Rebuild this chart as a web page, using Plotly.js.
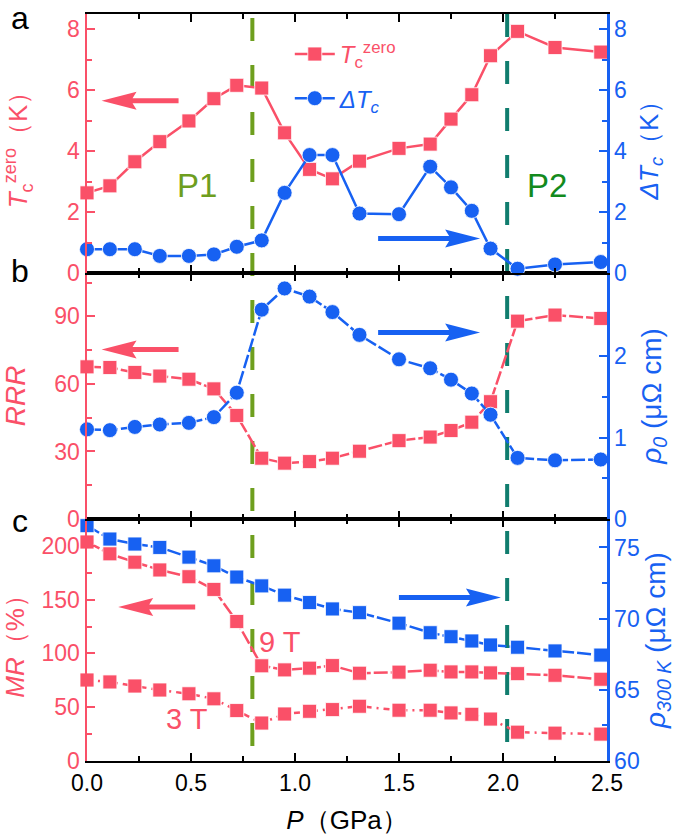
<!DOCTYPE html>
<html>
<head>
<meta charset="utf-8">
<script src="https://cdn.plot.ly/plotly-3.0.1.min.js"></script>
<style>
  html, body { margin: 0; padding: 0; background: #fff; }
  #chart { width: 685px; height: 840px; }
</style>
</head>
<body>
<div id="chart"></div>
<script>
// pressure points (GPa), shared by all three panels
var pressure = [0, 0.11, 0.23, 0.35, 0.49, 0.61, 0.72, 0.84, 0.95, 1.07, 1.18, 1.31, 1.50, 1.65, 1.75, 1.85, 1.94, 2.07, 2.25, 2.47];

// panel a
var tcZero  = [2.63, 2.86, 3.65, 4.31, 4.99, 5.72, 6.16, 6.07, 4.60, 3.40, 3.09, 3.67, 4.09, 4.23, 5.05, 5.85, 7.13, 7.93, 7.40, 7.25];
var deltaTc = [0.78, 0.78, 0.78, 0.56, 0.56, 0.61, 0.86, 1.07, 2.63, 3.87, 3.87, 1.95, 1.93, 3.49, 2.81, 2.04, 0.80, 0.14, 0.28, 0.36];

// panel b
var rrr  = [67.6, 67.3, 65.1, 63.5, 62.1, 57.8, 46.0, 27.0, 24.8, 25.5, 27.0, 30.1, 34.8, 36.4, 39.3, 43.0, 52.1, 87.9, 90.6, 89.1];
var rho0 = [1.10, 1.09, 1.13, 1.16, 1.18, 1.25, 1.55, 2.57, 2.83, 2.73, 2.54, 2.26, 1.96, 1.85, 1.71, 1.54, 1.28, 0.75, 0.72, 0.73];

// panel c
var mr9T   = [203.6, 192.6, 184.8, 177.6, 171.3, 159.5, 129.7, 88.5, 84.7, 86.3, 88.7, 81.6, 82.6, 84.4, 82.8, 82.8, 81.9, 81.2, 79.7, 76.0];
var mr3T   = [75.3, 73.5, 69.7, 66.0, 62.5, 57.8, 46.9, 35.3, 43.7, 46.2, 47.8, 50.9, 47.2, 47.2, 44.7, 43.4, 39.0, 26.8, 25.9, 25.0];
var rho300 = [76.53, 75.59, 75.24, 75.0, 74.32, 73.71, 72.92, 72.30, 71.65, 71.13, 70.68, 70.42, 69.68, 69.01, 68.73, 68.43, 68.15, 67.99, 67.73, 67.44];

// critical pressures
var p1 = 0.795, p2 = 2.02;

var RED = '#FA5068', BLUE = '#1761F2';
var FONT = 'Liberation Sans, Arial, sans-serif';

function sq(color) { return {symbol: 'square', size: 14, color: color, line: {color: 'rgba(255,255,255,0.8)', width: 1}}; }
function dot(color) { return {symbol: 'circle', size: 15, color: color, line: {color: 'rgba(255,255,255,0.8)', width: 1}}; }

var data = [
  {x: pressure, y: tcZero, xaxis: 'x3', yaxis: 'y5', mode: 'lines+markers', cliponaxis: false,
   name: '<span style="color:' + RED + '"><i>T</i><sub>c</sub><sup>zero</sup></span>', legendgroup: 'g1',
   line: {color: RED, width: 2.5}, marker: sq(RED)},
  {x: pressure, y: deltaTc, xaxis: 'x3', yaxis: 'y6', mode: 'lines+markers', cliponaxis: false,
   name: '<span style="color:' + BLUE + '"><i>ΔT<sub>c</sub></i></span>', legendgroup: 'g2',
   line: {color: BLUE, width: 2.5}, marker: dot(BLUE)},

  {x: pressure, y: rrr, xaxis: 'x2', yaxis: 'y3', mode: 'lines+markers', cliponaxis: false, showlegend: false,
   line: {color: RED, width: 2.5, dash: '14px,3px'}, marker: sq(RED)},
  {x: pressure, y: rho0, xaxis: 'x2', yaxis: 'y4', mode: 'lines+markers', cliponaxis: false, showlegend: false,
   line: {color: BLUE, width: 2.5, dash: '14px,3px'}, marker: dot(BLUE)},

  {x: pressure, y: mr9T, xaxis: 'x', yaxis: 'y', mode: 'lines+markers', cliponaxis: false, showlegend: false,
   line: {color: RED, width: 2.5, dash: '14px,3px'}, marker: sq(RED)},
  {x: pressure, y: mr3T, xaxis: 'x', yaxis: 'y', mode: 'lines+markers', cliponaxis: false, showlegend: false,
   line: {color: RED, width: 2.5, dash: '6px,5px,2px,5px'}, marker: sq(RED)},
  {x: pressure, y: rho300, xaxis: 'x', yaxis: 'y2', mode: 'lines+markers', cliponaxis: false, showlegend: false,
   line: {color: BLUE, width: 2.5, dash: '14px,3px'}, marker: sq(BLUE)}
];

function xAxis(anchor, labels) {
  var ax = {
    anchor: anchor, domain: [0, 1], range: [0, 2.5], dtick: 0.5, tickformat: '.1f',
    ticks: 'inside', ticklen: 8, tickwidth: 2, tickcolor: '#000',
    minor: {dtick: 0.25, ticks: 'inside', ticklen: 5, tickwidth: 2, tickcolor: '#000'},
    showline: true, linewidth: 2, linecolor: '#000', mirror: 'ticks',
    showgrid: false, zeroline: false, showticklabels: labels,
    tickfont: {family: FONT, size: 23, color: '#000'}
  };
  return ax;
}

function yAxis(opts, color, title, standoff, size) {
  var ax = {
    ticks: 'inside', ticklen: 8, tickwidth: 2, tickcolor: color,
    showline: true, linewidth: 2.5, linecolor: color,
    showgrid: false, zeroline: false, automargin: false,
    tickfont: {family: FONT, size: 23, color: color},
    title: {text: title, standoff: standoff, font: {family: FONT, size: size || 26, color: color}}
  };
  for (var k in opts) ax[k] = opts[k];
  return ax;
}

function minor(d) { return {dtick: d, ticks: 'inside', ticklen: 5, tickwidth: 2}; }

// arrow drawn in pixel units around its tip (dir -1 = points left, +1 = points right)
function arrow(xref, yref, x, y, len, dir, color) {
  var h = 35, hw = 9, sw = 2.5, n = 4;
  var pts = [[0, 0], [h, hw], [h - n, sw], [len, sw], [len, -sw], [h - n, -sw], [h, -hw]];
  var path = 'M' + pts.map(function (p) { return (-dir * p[0]) + ',' + p[1]; }).join('L') + 'Z';
  return {type: 'path', xref: xref, yref: yref, xsizemode: 'pixel', ysizemode: 'pixel',
          xanchor: x, yanchor: y, path: path, fillcolor: color, line: {width: 0}, layer: 'above'};
}

function vline(x, color, top) {
  return {type: 'line', xref: 'x', yref: 'paper', x0: x, x1: x, y0: top, y1: 0,
          line: {color: color, width: 4, dash: '23px,24px'}, layer: 'below'};
}

function note(text, xref, yref, x, y, color, size) {
  return {text: text, xref: xref, yref: yref, x: x, y: y, xanchor: 'center', yanchor: 'middle',
          showarrow: false, font: {family: FONT, size: size, color: color}};
}

var layout = {
  width: 685, height: 840,
  margin: {l: 87, r: 78, t: 14, b: 79},
  paper_bgcolor: '#fff', plot_bgcolor: 'rgba(0,0,0,0)',
  font: {family: FONT},
  showlegend: true,
  legend: {x: 0.39, y: 0.976, xanchor: 'left', yanchor: 'top', bgcolor: 'rgba(0,0,0,0)',
           font: {family: FONT, size: 24}, tracegroupgap: 10, itemwidth: 40},

  xaxis: Object.assign(xAxis('y', true), {title: {text: '<i>P</i>（GPa）', standoff: 16, font: {family: FONT, size: 26, color: '#000'}}}),
  xaxis2: xAxis('y3', false),
  xaxis3: xAxis('y5', false),

  yaxis:  yAxis({anchor: 'x', domain: [0, 0.324], side: 'left', range: [0, 225], dtick: 50, minor: minor(25)},
                RED, '<i>MR</i>（%）', 12),
  yaxis2: yAxis({anchor: 'x', overlaying: 'y', side: 'right', range: [60, 77], dtick: 5, minor: minor(2.5)},
                BLUE, '<i>ρ<sub>300 K</sub></i> (μΩ cm)', 6, 28),
  yaxis3: yAxis({anchor: 'x2', domain: [0.324, 0.6533], side: 'left', range: [0, 109.3], dtick: 30, minor: minor(15)},
                RED, '<i>RRR</i>', 24, 28),
  yaxis4: yAxis({anchor: 'x2', overlaying: 'y3', side: 'right', range: [0, 3.02], tickvals: [0, 1, 2],
                 minor: {tickvals: [0.5, 1.5], ticks: 'inside', ticklen: 5, tickwidth: 2}},
                BLUE, '<i>ρ<sub>0</sub></i> (μΩ cm)', 16, 28),
  yaxis5: yAxis({anchor: 'x3', domain: [0.6533, 1], side: 'left', range: [0, 8.5], dtick: 2, minor: minor(1)},
                RED, '<i>T</i><sub>c</sub><sup>zero</sup>（K）', 32),
  yaxis6: yAxis({anchor: 'x3', overlaying: 'y5', side: 'right', range: [0, 8.5], dtick: 2, minor: minor(1)},
                BLUE, '<i>ΔT<sub>c</sub></i>（K）', 14),

  shapes: [
    vline(p1, '#6E9F1E', 0.9946),
    vline(p2, '#107D6E', 1),
    arrow('x3', 'y5', 0.07, 5.65, 77, -1, RED),
    arrow('x3', 'y6', 1.89, 1.13, 102, 1, BLUE),
    arrow('x2', 'y3', 0.07, 75.3, 77, -1, RED),
    arrow('x2', 'y4', 1.89, 2.29, 102, 1, BLUE),
    arrow('x', 'y', 0.15, 143.2, 77, -1, RED),
    arrow('x', 'y2', 1.99, 71.48, 102, 1, BLUE)
  ],

  annotations: [
    note('P1', 'x3', 'y5', 0.53, 2.88, '#6E9E1E', 33),
    note('P2', 'x3', 'y5', 2.21, 2.88, '#138A1D', 33),
    note('9 T', 'x', 'y', 0.93, 111, RED, 29),
    note('3 T', 'x', 'y', 0.48, 38.7, RED, 29),
    note('a', 'paper', 'paper', -0.129, 0.994, '#000', 32),
    note('b', 'paper', 'paper', -0.129, 0.656, '#000', 32),
    note('c', 'paper', 'paper', -0.129, 0.321, '#000', 32)
  ]
};

Plotly.newPlot('chart', data, layout, {displayModeBar: false, staticPlot: true});
</script>
</body>
</html>
